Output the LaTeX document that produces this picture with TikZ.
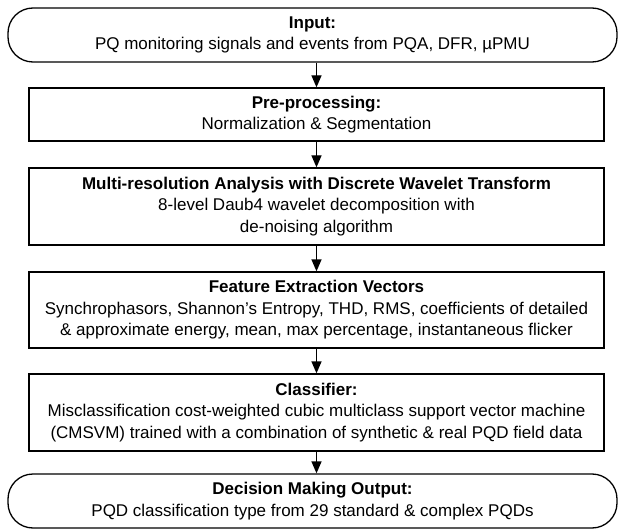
\documentclass[tikz,border=0pt]{standalone}
\usepackage{fontspec}
\setmainfont{Liberation Sans}
\usetikzlibrary{arrows.meta}

\begin{document}
\begin{tikzpicture}[x=1pt,y=-1pt,
        termbox/.style={draw,line width=1.3pt,rounded corners=25pt,minimum width=609pt,minimum height=54pt,align=center,inner sep=0pt,font=\fontsize{17}{21.5}\selectfont},
        stepbox/.style={draw,line width=1.3pt,minimum width=575pt,align=center,inner sep=0pt,font=\fontsize{17}{21.5}\selectfont},
        flow/.style={line width=1.3pt,-{Triangle[length=12pt,width=10pt]}}]
        \useasboundingbox (0,0) rectangle (619,532);

        % Terminals and processing steps
        \node[termbox] (inp) at (312.5,35) {\textbf{Input:}\\PQ monitoring signals and events from PQA, DFR, µPMU};
        \node[stepbox,minimum height=53pt] (pre) at (316.5,114.5) {\textbf{Pre-processing:}\\Normalization \& Segmentation};
        \node[stepbox,minimum height=77pt] (mra) at (316.5,206.5) {\textbf{Multi-resolution Analysis with Discrete Wavelet Transform}\\8-level Daub4 wavelet decomposition with\\de-noising algorithm};
        \node[stepbox,minimum height=76pt] (fev) at (316.5,310) {\textbf{Feature Extraction Vectors}\\Synchrophasors, Shannon’s Entropy, THD, RMS, coefficients of detailed\\\& approximate energy, mean, max percentage, instantaneous flicker};
        \node[stepbox,minimum height=77pt] (cls) at (316.5,412.5) {\textbf{Classifier:}\\Misclassification cost-weighted cubic multiclass support vector machine\\(CMSVM) trained with a combination of synthetic \& real PQD field data};
        \node[termbox] (out) at (312.5,501) {\textbf{Decision Making Output:}\\PQD classification type from 29 standard \& complex PQDs};

        % Arrows
        \draw[flow] (pre.north |- inp.south) -- (pre.north);
        \draw[flow] (pre) -- (mra);
        \draw[flow] (mra) -- (fev);
        \draw[flow] (fev) -- (cls);
        \draw[flow] (cls.south) -- (cls.south |- out.north);
    \end{tikzpicture}
\end{document}
